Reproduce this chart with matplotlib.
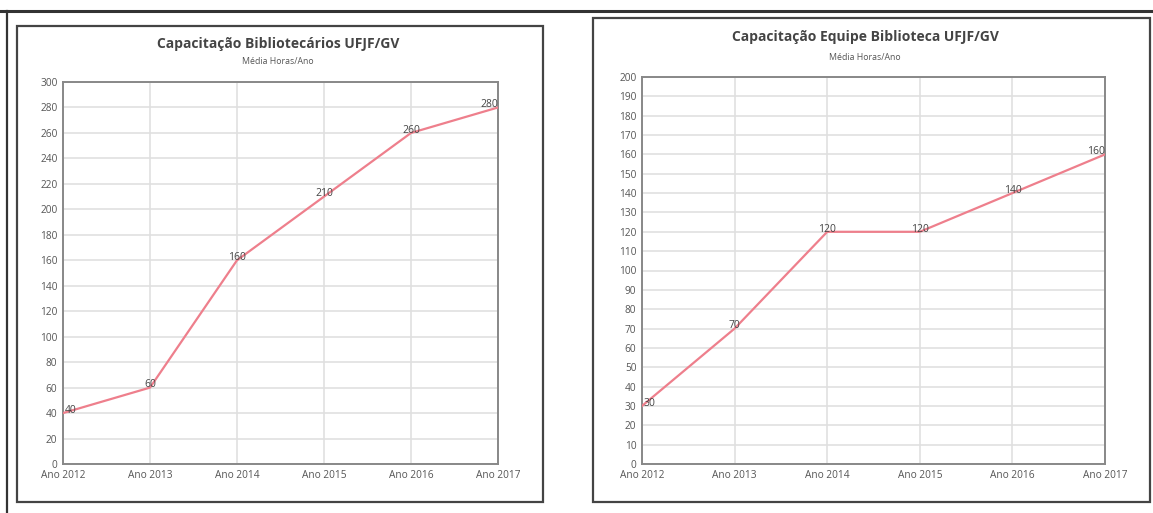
import matplotlib
matplotlib.use("Agg")
import matplotlib.pyplot as plt
from matplotlib.patches import Rectangle
from matplotlib.lines import Line2D

plt.rcParams['font.family'] = ['Open Sans', 'DejaVu Sans']

anos = ['Ano 2012', 'Ano 2013', 'Ano 2014', 'Ano 2015', 'Ano 2016', 'Ano 2017']
horas_bibliotecarios = [40, 60, 160, 210, 260, 280]
horas_equipe = [30, 70, 120, 120, 140, 160]

titulo_esq = 'Capacitação Bibliotecários UFJF/GV'
titulo_dir = 'Capacitação Equipe Biblioteca UFJF/GV'
subtitulo = 'Média Horas/Ano'

line_color = '#ee7f8c'
text_color = '#555555'
W, H = 1153, 513


def px_rect(x0, y0, x1, y1):
    # pixel box (top-left origin) -> figure fraction
    return [x0 / W, 1 - y1 / H, (x1 - x0) / W, (y1 - y0) / H]


def draw_chart(ax, valores, ymax, ystep):
    x = list(range(len(anos)))
    ax.plot(x, valores, color=line_color, lw=1.6, zorder=3)
    for i, v in enumerate(valores):
        ha = 'center'
        dx = 0
        if i == 0:
            ha, dx = 'left', 1
        elif i == len(valores) - 1:
            ha, dx = 'right', 0
        ax.annotate(str(v), (i, v), xytext=(dx, 2), textcoords='offset points',
                    ha=ha, va='center', fontsize=7.5, color='#444444', zorder=4)
    ax.set_xlim(0, len(anos) - 1)
    ax.set_ylim(0, ymax)
    ax.set_xticks(x)
    ax.set_xticklabels(anos)
    ax.set_yticks(range(0, ymax + 1, ystep))
    ax.tick_params(length=0, labelsize=7.3, labelcolor=text_color, pad=4)
    ax.grid(True, color='#e0e0e0', lw=1.2)
    ax.set_axisbelow(True)
    for s in ax.spines.values():
        s.set_color('#888888')
        s.set_linewidth(1.4)


fig = plt.figure(figsize=(W / 100, H / 100), dpi=100)

# outer frame of the page
fig.add_artist(Line2D([0, 1], [1 - 11 / H, 1 - 11 / H], transform=fig.transFigure,
                      color='#333333', lw=2.2))
fig.add_artist(Line2D([7 / W, 7 / W], [0, 1 - 11 / H], transform=fig.transFigure,
                      color='#333333', lw=1.6))

# panel boxes
for box in [px_rect(17, 26, 543, 502), px_rect(593, 18, 1150, 502)]:
    fig.add_artist(Rectangle((box[0], box[1]), box[2], box[3], transform=fig.transFigure,
                             fill=False, edgecolor='#444444', lw=1.6))

ax1 = fig.add_axes(px_rect(63, 82, 498, 464))
draw_chart(ax1, horas_bibliotecarios, 300, 20)

ax2 = fig.add_axes(px_rect(642, 77, 1105, 464))
draw_chart(ax2, horas_equipe, 200, 10)

fig.text(278 / W, 1 - 44 / H, titulo_esq, ha='center', va='center', fontsize=10,
         fontweight='bold', color='#444444')
fig.text(278 / W, 1 - 62 / H, subtitulo, ha='center', va='center', fontsize=6.3,
         color=text_color)
fig.text(865 / W, 1 - 37 / H, titulo_dir, ha='center', va='center', fontsize=10,
         fontweight='bold', color='#444444')
fig.text(865 / W, 1 - 57 / H, subtitulo, ha='center', va='center', fontsize=6.3,
         color=text_color)

fig.savefig('out.png', dpi=100)
